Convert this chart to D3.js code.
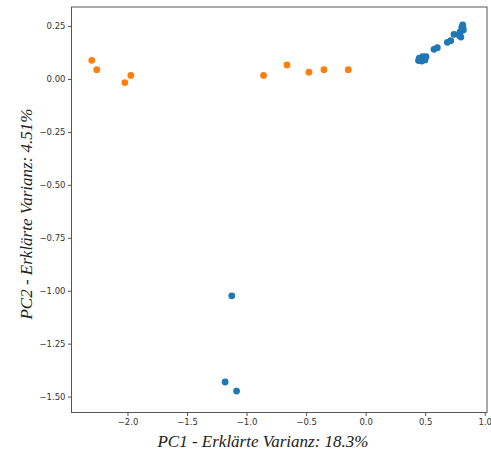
<!DOCTYPE html>
<html><head><meta charset="utf-8">
<script src="https://cdn.jsdelivr.net/npm/d3@7"></script>
<style>body{margin:0;background:#fff}svg{display:block}</style>
</head><body>
<svg id="c" width="491" height="452"></svg>
<script>
// Data (PC1, PC2)
const blueX = [0.450, 0.479, 0.498, 0.471, 0.507, 0.444, 0.574, 0.602, 0.686, 0.714, 0.742, 0.792, 0.807, 0.815, 0.787, 0.820, 0.800, 0.818, -1.124, -1.18, -1.084];
const blueY = [0.098, 0.105, 0.090, 0.085, 0.105, 0.087, 0.140, 0.148, 0.173, 0.181, 0.211, 0.221, 0.242, 0.255, 0.205, 0.231, 0.198, 0.241, -1.024, -1.431, -1.474];
const orangeX = [-2.30, -2.258, -2.022, -1.972, -0.857, -0.661, -0.476, -0.350, -0.146];
const orangeY = [0.088, 0.044, -0.017, 0.017, 0.017, 0.066, 0.032, 0.044, 0.044];
const xTicks = [-2.0, -1.5, -1.0, -0.5, 0.0, 0.5, 1.0];
const yTicks = [0.25, 0.00, -0.25, -0.50, -0.75, -1.00, -1.25, -1.50];
const xLabel = "PC1 - Erklärte Varianz: 18.3%";
const yLabel = "PC2 - Erklärte Varianz: 4.51%";

const L = 71.5, R = 487, T = 7, B = 412.5;
const x = d3.scaleLinear().domain([-2.47, 1.019]).range([L, R]);
const y = d3.scaleLinear().domain([-1.575, 0.340]).range([B, T]);

const svg = d3.select("#c");
const axisColor = "#333";

svg.append("rect").attr("x", L).attr("y", T).attr("width", R - L).attr("height", B - T)
  .attr("fill", "none").attr("stroke", "#555").attr("stroke-width", 1);

const xa = svg.append("g").attr("transform", `translate(0,${B})`)
  .call(d3.axisBottom(x).tickValues(xTicks).tickFormat(d3.format(".1f")).tickSizeOuter(0).tickSize(3.5).tickPadding(2.5));
const ya = svg.append("g").attr("transform", `translate(${L},0)`)
  .call(d3.axisLeft(y).tickValues(yTicks).tickFormat(d3.format(".2f")).tickSizeOuter(0).tickSize(3.5).tickPadding(2.5));
[xa, ya].forEach(a => {
  a.select(".domain").remove();
  a.selectAll(".tick line").attr("stroke", "#555");
  a.selectAll(".tick text").attr("fill", axisColor).style("font-family", "DejaVu Sans").style("font-size", "8.5px");
});
// minus sign like matplotlib
xa.selectAll(".tick text").text(d => (d < 0 ? "\u2212" : "") + d3.format(".1f")(Math.abs(d)));
ya.selectAll(".tick text").text(d => (d < 0 ? "\u2212" : "") + d3.format(".2f")(Math.abs(d)));

const blue = blueX.map((v, i) => [v, blueY[i]]);
const orange = orangeX.map((v, i) => [v, orangeY[i]]);

svg.append("g").selectAll("circle").data(blue).join("circle")
  .attr("cx", d => x(d[0])).attr("cy", d => y(d[1])).attr("r", 3.4).attr("fill", "#1f77b4");
svg.append("g").selectAll("circle").data(orange).join("circle")
  .attr("cx", d => x(d[0])).attr("cy", d => y(d[1])).attr("r", 3.4).attr("fill", "#ff7f0e");

svg.append("text").attr("x", 263).attr("y", 446.5).attr("text-anchor", "middle")
  .style("font-family", "Liberation Serif").style("font-style", "italic").style("font-size", "17px")
  .attr("fill", "#222").text(xLabel);
svg.append("text").attr("transform", "translate(31.5,214) rotate(-90)").attr("text-anchor", "middle")
  .style("font-family", "Liberation Serif").style("font-style", "italic").style("font-size", "17px")
  .attr("fill", "#222").text(yLabel);
</script>
</body></html>
